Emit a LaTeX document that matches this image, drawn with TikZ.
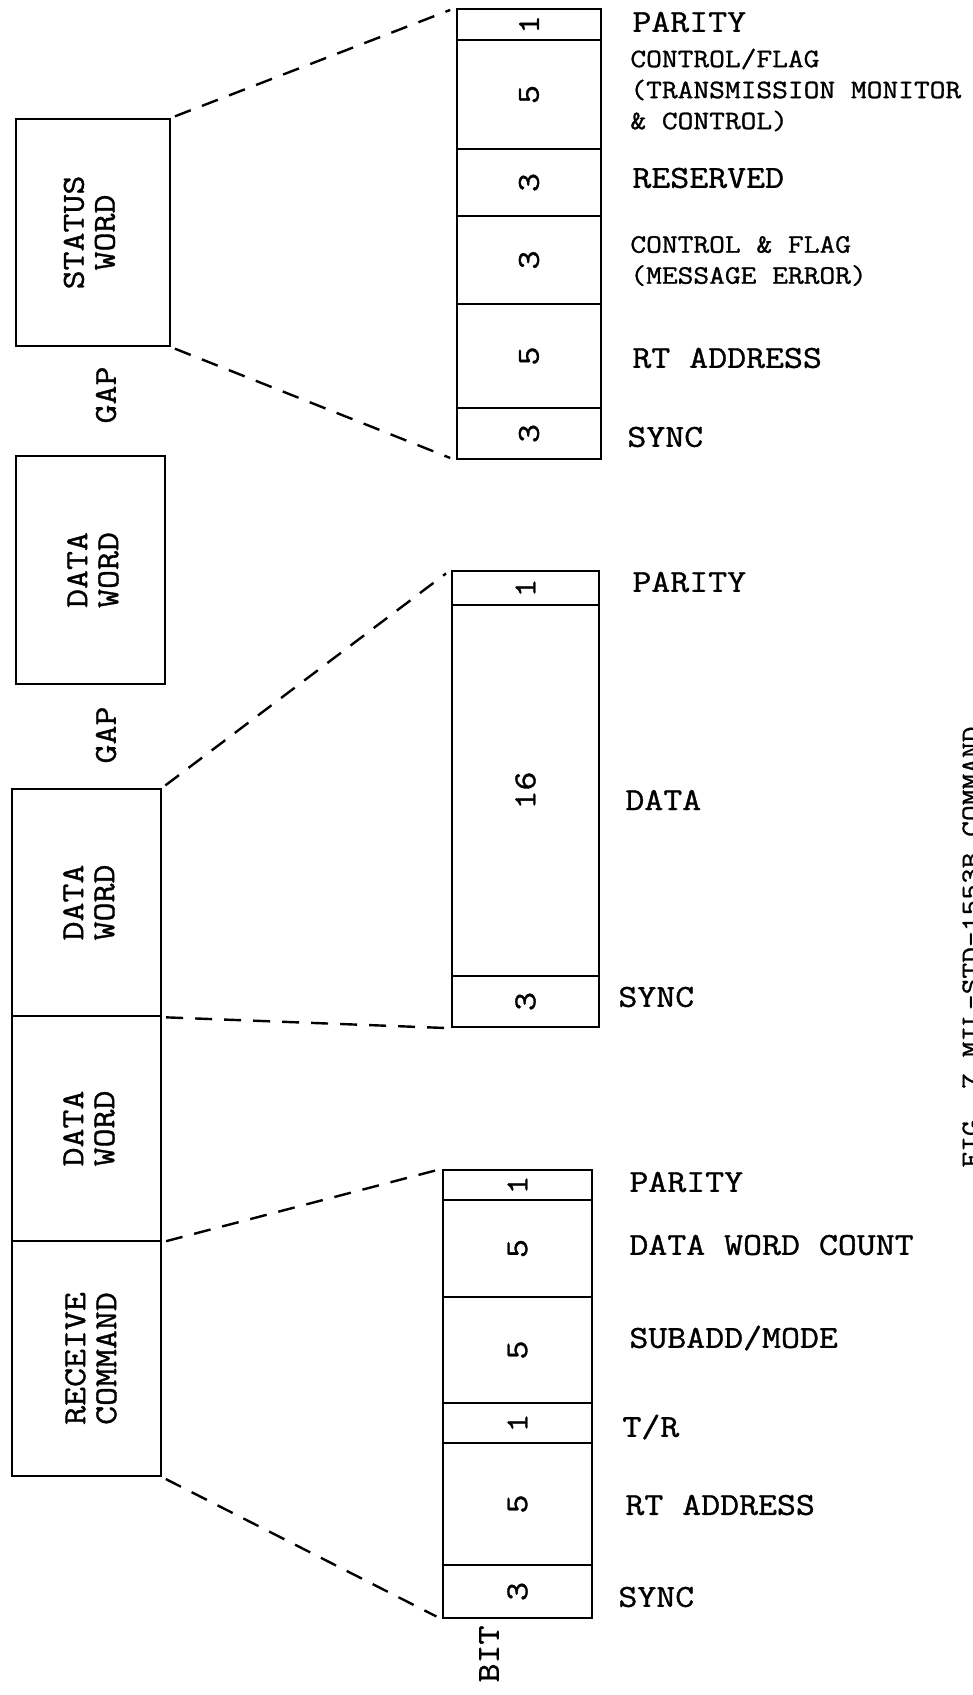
\documentclass[tikz,border=0pt]{standalone}
\usepackage{fontspec}
\newfontfamily\tw[FakeStretch=1.15,FakeBold=1.1]{Latin Modern Mono}
\begin{document}
\begin{tikzpicture}[x=0.5pt,y=-0.5pt,
  big/.style={font=\tw\fontsize{16pt}{15.5pt}\selectfont},
  small/.style={font=\tw\fontsize{13.3pt}{15.5pt}\selectfont},
  wordbox/.style={draw,line width=1.2pt,inner sep=0pt,big,align=center},
  seg/.style={draw,line width=1.2pt,inner sep=0pt,big},
  lab/.style={anchor=west,inner sep=0pt,big},
  slab/.style={anchor=west,inner sep=0pt,small,align=left},
  rlab/.style={rotate=90,inner sep=0pt,big},
  conn/.style={line width=1.2pt,dash pattern=on 8.5pt off 6pt,shorten <=2pt,shorten >=3pt}]
\useasboundingbox (0,0) rectangle (973,1695);
\clip (0,0) rectangle (973,1695);
% word boxes
\node[wordbox,minimum width=77pt,minimum height=113.5pt] (sw) at (93,232.5)
  {\rotatebox{90}{\begin{tabular}{@{}c@{}}STATUS\\WORD\end{tabular}}};
\node[rlab] (gap1) at (106,395) {GAP};
\node[wordbox,minimum width=74.5pt,minimum height=114pt] (dw1) at (90.5,570)
  {\hspace*{6pt}\rotatebox{90}{\begin{tabular}{@{}c@{}}DATA\\WORD\end{tabular}}};
\node[rlab] (gap2) at (106,735) {GAP};
\node[wordbox,minimum width=74.5pt,minimum height=113.5pt] (dw2) at (86.5,902.5)
  {\hspace*{6pt}\rotatebox{90}{\begin{tabular}{@{}c@{}}DATA\\WORD\end{tabular}}};
\node[wordbox,minimum width=74.5pt,minimum height=112.5pt] (dw3) at (86.5,1128.5)
  {\hspace*{6pt}\rotatebox{90}{\begin{tabular}{@{}c@{}}DATA\\WORD\end{tabular}}};
\node[wordbox,minimum width=74.5pt,minimum height=117.5pt] (rc) at (86.5,1358.5)
  {\hspace*{8pt}\rotatebox{90}{\begin{tabular}{@{}c@{}}RECEIVE\\COMMAND\end{tabular}}};
% status word bits
\node[seg,minimum width=72pt,minimum height=15.5pt] (s1) at (529,24.5) {\rotatebox{90}{1}};
\node[seg,minimum width=72pt,minimum height=54.5pt] (s2) at (529,94.5) {\rotatebox{90}{5}};
\node[seg,minimum width=72pt,minimum height=33.5pt] (s3) at (529,182.5) {\rotatebox{90}{3}};
\node[seg,minimum width=72pt,minimum height=44pt] (s4) at (529,260) {\rotatebox{90}{3}};
\node[seg,minimum width=72pt,minimum height=52pt] (s5) at (529,356) {\rotatebox{90}{5}};
\node[seg,minimum width=72pt,minimum height=25.5pt] (s6) at (529,433.5) {\rotatebox{90}{3}};
\node[lab] (ls1) at (632,22) {PARITY};
\node[slab] (ls2) at (630,90) {CONTROL/FLAG\\(TRANSMISSION MONITOR\\\&~CONTROL)};
\node[lab] (ls3) at (632,178) {RESERVED};
\node[slab] (ls4) at (630,261) {CONTROL \& FLAG\\(MESSAGE ERROR)};
\node[lab] (ls5) at (632,358) {RT ADDRESS};
\node[lab] (ls6) at (627,437) {SYNC};
% data word bits
\node[seg,minimum width=73.5pt,minimum height=17pt] (d1) at (525.5,588) {\rotatebox{90}{1}};
\node[seg,minimum width=73.5pt,minimum height=185.5pt] (d2) at (525.5,790.5) {\rotatebox{90}{16}};
\node[seg,minimum width=73.5pt,minimum height=25.5pt] (d3) at (525.5,1001.5) {\rotatebox{90}{3}};
\node[lab] (ld1) at (632,582) {PARITY};
\node[lab] (ld2) at (625,800) {DATA};
\node[lab] (ld3) at (618,997) {SYNC};
% command word bits
\node[seg,minimum width=74.5pt,minimum height=15pt] (c1) at (517.5,1185) {\rotatebox{90}{1}};
\node[seg,minimum width=74.5pt,minimum height=48.5pt] (c2) at (517.5,1248.5) {\rotatebox{90}{5}};
\node[seg,minimum width=74.5pt,minimum height=53pt] (c3) at (517.5,1350) {\rotatebox{90}{5}};
\node[seg,minimum width=74.5pt,minimum height=20pt] (c4) at (517.5,1423) {\rotatebox{90}{1}};
\node[seg,minimum width=74.5pt,minimum height=61pt] (c5) at (517.5,1504) {\rotatebox{90}{5}};
\node[seg,minimum width=74.5pt,minimum height=26.5pt] (c6) at (517.5,1591.5) {\rotatebox{90}{3}};
\node[lab] (lc1) at (629,1182) {PARITY};
\node[lab] (lc2) at (629,1245) {DATA WORD COUNT};
\node[lab] (lc3) at (629,1338) {SUBADD/MODE};
\node[lab] (lc4) at (622,1427) {T/R};
\node[lab] (lc5) at (625,1505) {RT ADDRESS};
\node[lab] (lc6) at (618,1597) {SYNC};
\node[rlab] (bit) at (489,1654) {BIT};
% caption (cut at the page edge, as in the reference)
\node[anchor=base west,rotate=90,inner sep=0pt,small] (cap) at (979,1168) {FIG. 7 MIL-STD-1553B COMMAND};
% dashed expansion lines
\draw[conn] (sw.north east) -- (s1.north west);
\draw[conn] (sw.south east) -- (s6.south west);
\draw[conn] (dw2.north east) -- (d1.north west);
\draw[conn] (dw2.south east) -- (d3.south west);
\draw[conn] (dw3.south east) -- (c1.north west);
\draw[conn] (rc.south east) -- (c6.south west);
\end{tikzpicture}
\end{document}
